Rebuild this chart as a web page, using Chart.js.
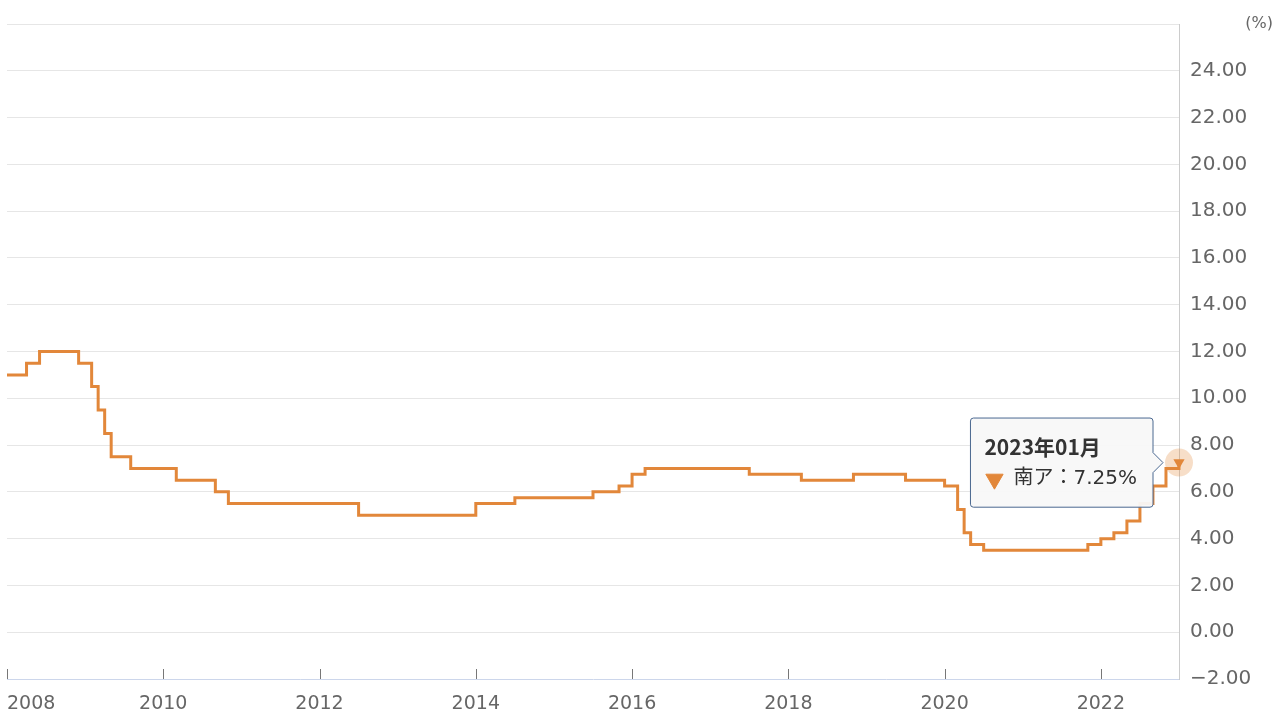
<!DOCTYPE html>
<html><head><meta charset="utf-8">
<script src="https://cdn.jsdelivr.net/npm/chart.js@4/dist/chart.umd.min.js"></script>
<style>html,body{margin:0;padding:0;background:#fff}#wrap{position:relative;width:1280px;height:720px}</style>
</head><body><div id="wrap"><canvas id="c" width="1280" height="720"></canvas></div>
<script>
// Month in which each repo rate change took effect, and the rate (%) from that month on
const changeMonths = ['2008-01','2008-04','2008-06','2008-12','2009-02','2009-03','2009-04','2009-05','2009-08','2010-03','2010-09','2010-11','2012-07','2014-01','2014-07','2015-07','2015-11','2016-01','2016-03','2017-07','2018-03','2018-11','2019-07','2020-01','2020-03','2020-04','2020-05','2020-07','2021-11','2022-01','2022-03','2022-05','2022-07','2022-09','2022-11','2023-01'];
const repoRates = [11.0,11.5,12.0,11.5,10.5,9.5,8.5,7.5,7.0,6.5,6.0,5.5,5.0,5.5,5.75,6.0,6.25,6.75,7.0,6.75,6.5,6.75,6.5,6.25,5.25,4.25,3.75,3.5,3.75,4.0,4.25,4.75,5.5,6.25,7.0,7.25];
const seriesName = '南ア';
const yearTicks = [2008,2010,2012,2014,2016,2018,2020,2022];
const yMin = -2, yMax = 26, yStep = 2;
const unitLabel = '(%)';

const ORANGE = '#e2873a';
const monthToX = s => { const [y,m] = s.split('-').map(Number); return y + (m-1)/12; };
const points = changeMonths.map((m,i) => ({x: monthToX(m), y: repoRates[i], label: m}));
const last = points.length - 1;

const deco = {
  id: 'deco',
  beforeDatasetsDraw(chart) {
    const p = chart.getDatasetMeta(0).data[last];
    const ctx = chart.ctx;
    ctx.save();
    ctx.beginPath(); ctx.arc(p.x, p.y, 14, 0, Math.PI*2);
    ctx.fillStyle = 'rgba(226,135,58,0.28)'; ctx.fill();
    ctx.restore();
  },
  afterDatasetsDraw(chart) {
    const ctx = chart.ctx, xs = chart.scales.x, ys = chart.scales.y, a = chart.chartArea;
    ctx.save();
    ctx.strokeStyle = '#777'; ctx.lineWidth = 1;
    yearTicks.forEach(v => {
      const x = Math.round(xs.getPixelForValue(v)) + 0.5;
      ctx.beginPath(); ctx.moveTo(x, a.bottom - 10); ctx.lineTo(x, a.bottom); ctx.stroke();
    });
    ctx.fillStyle = '#666';
    ctx.font = '19px "DejaVu Sans"';
    ctx.textAlign = 'left'; ctx.textBaseline = 'middle';
    ctx.fillText(String(yearTicks[0]), a.left, a.bottom + 25);
    ctx.font = '16px "DejaVu Sans"';
    ctx.textAlign = 'right';
    ctx.fillText(unitLabel, 1273, ys.getPixelForValue(yMax));
    ctx.restore();
  }
};

const chart = new Chart(document.getElementById('c'), {
  type: 'line',
  data: { datasets: [{
    label: seriesName,
    data: points,
    stepped: true,
    borderColor: ORANGE,
    backgroundColor: ORANGE,
    borderWidth: 3,
    fill: false,
    clip: false,
    pointStyle: 'triangle',
    pointRotation: 180,
    pointRadius: c => c.dataIndex === last ? 6.5 : 0,
    pointHoverRadius: c => c.dataIndex === last ? 6.5 : 0,
    pointBorderWidth: 0,
    pointHoverBorderWidth: 0,
    pointBackgroundColor: ORANGE,
    pointHoverBackgroundColor: ORANGE,
    pointHitRadius: 0
  }]},
  plugins: [deco],
  options: {
    responsive: false,
    animation: false,
    events: [],
    layout: { padding: { left: 7, top: 24, right: 0, bottom: 0 } },
    scales: {
      x: {
        type: 'linear', min: 2008, max: 2023,
        grid: { display: false, drawTicks: false },
        border: { display: true, color: '#ccd6eb', width: 1 },
        afterFit: s => { s.height = 41; },
        ticks: {
          stepSize: 2, includeBounds: false, autoSkip: false, maxRotation: 0,
          padding: 7, color: '#666',
          font: { family: 'DejaVu Sans', size: 19, lineHeight: 1.9 },
          callback: v => v === yearTicks[0] ? '' : String(v)
        }
      },
      y: {
        position: 'right', min: yMin, max: yMax,
        grid: { color: c => c.tick && c.tick.value === yMin ? 'rgba(0,0,0,0)' : '#e6e6e6', lineWidth: 1, drawTicks: false },
        border: { display: true, color: '#ccc', width: 1 },
        afterFit: s => { s.width = 101; },
        ticks: {
          stepSize: yStep, padding: 11, color: '#666',
          font: { family: 'DejaVu Sans', size: 20 },
          callback: v => v === yMax ? '' : (v < 0 ? '\u2212' + Math.abs(v).toFixed(2) : v.toFixed(2))
        }
      }
    },
    plugins: {
      legend: { display: false },
      tooltip: {
        enabled: true,
        position: 'average',
        xAlign: 'right', yAlign: 'center',
        backgroundColor: 'rgba(248,248,248,0.95)',
        borderColor: '#4a6890', borderWidth: 1, cornerRadius: 3,
        caretSize: 10, caretPadding: 16,
        padding: { left: 14, right: 16, top: 17, bottom: 16 },
        titleFont: { family: 'Noto Sans CJK JP', size: 21, weight: 'bold', lineHeight: 1.15 },
        titleColor: '#333', titleMarginBottom: 8,
        bodyFont: { family: '"DejaVu Sans", "Noto Sans CJK JP"', size: 20 },
        bodyColor: '#333',
        displayColors: true, usePointStyle: true,
        boxWidth: 20, boxHeight: 20, boxPadding: 7,
        callbacks: {
          title: items => { const [y,m] = items[0].raw.label.split('-'); return y + '年' + m + '月'; },
          label: c => c.dataset.label + '：' + c.parsed.y.toFixed(2) + '%',
          labelColor: () => ({ borderColor: ORANGE, backgroundColor: ORANGE, borderWidth: 0 }),
          labelPointStyle: () => ({ pointStyle: 'triangle', rotation: 180 })
        }
      }
    }
  }
});
const el = chart.getDatasetMeta(0).data[last];
chart.setActiveElements([{ datasetIndex: 0, index: last }]);
chart.tooltip.setActiveElements([{ datasetIndex: 0, index: last }], { x: el.x, y: el.y });
chart.update();
</script></body></html>
